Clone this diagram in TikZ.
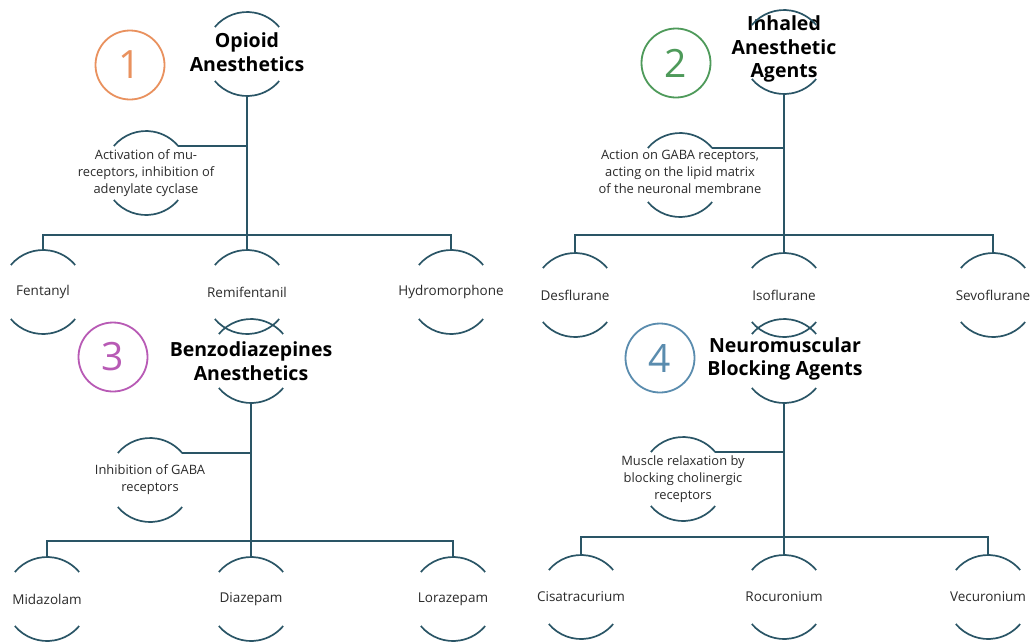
\documentclass[tikz,border=0pt]{standalone}
\usepackage{fontspec}
\setmainfont{Open Sans}
\usetikzlibrary{calc}
\definecolor{lncol}{HTML}{2A5566}
\definecolor{cone}{HTML}{E9915E}
\definecolor{ctwo}{HTML}{4E9A5A}
\definecolor{cthree}{HTML}{B85AB5}
\definecolor{cfour}{HTML}{5A8CAE}
\definecolor{txt}{HTML}{2B2B2B}
\tikzset{
  ln/.style={draw=lncol, line width=1.7pt},
  hub/.style={circle, minimum size=84pt, inner sep=0pt, outer sep=0pt},
  ttl/.style={font=\fontsize{19.5}{23.5}\selectfont\bfseries, align=center, text=black},
  leaf/.style={font=\fontsize{13.5}{17}\selectfont, text=txt},
  note/.style={font=\fontsize{12.9}{17}\selectfont, align=center, text=txt},
  num/.style={circle, line width=1.8pt, minimum size=69pt, inner sep=0pt, font=\fontsize{39}{39}\selectfont},
}
\newcommand\brk[1]{%
  \draw[ln] (#1.140) arc[start angle=140,end angle=40,radius=42pt];
  \draw[ln] (#1.220) arc[start angle=220,end angle=320,radius=42pt];}
\begin{document}
\begin{tikzpicture}[x=1pt,y=-1pt]
\fill[white] (0,0) rectangle (1032,641);
\useasboundingbox (0,0) rectangle (1032,641);

% ---------- Panel 1 ----------
\node[num, draw=cone, text=cone] (n1) at (130,65) {1};
\node[hub] (t1) at (247,54) {};
\node[ttl] (t1x) at (247,52) {Opioid\\Anesthetics};
\node[hub] (m1) at (146,173) {};
\node[note] (m1x) at (m1) {Activation of mu-\\receptors, inhibition of\\adenylate cyclase};
\coordinate (b1) at (247,235);
\node[hub] (l11) at (43,292) {};
\node[leaf] (l11x) at (l11) {Fentanyl};
\node[hub] (l12) at (247,292) {};
\node[leaf] (l12x) at (l12) {Remifentanil};
\node[hub] (l13) at (451,292) {};
\node[leaf] (l13x) at (l13) {Hydromorphone};
\draw[ln] (t1.south) -- (b1);
\draw[ln] (m1.40) -- (m1.40 -| t1.south);
\draw[ln] (l11.north) |- (b1) -| (l13.north);
\draw[ln] (b1) -- (l12.north);
\brk{t1}\brk{m1}\brk{l11}\brk{l12}\brk{l13}

% ---------- Panel 2 ----------
\node[num, draw=ctwo, text=ctwo] (n2) at (676,63) {2};
\node[hub] (t2) at (784,52) {};
\node[ttl] (t2x) at (784,49) {Inhaled\\Anesthetic\\Agents};
\node[hub] (m2) at (680,175) {};
\node[note] (m2x) at (680,172) {Action on GABA receptors,\\acting on the lipid matrix\\of the neuronal membrane};
\coordinate (b2) at (784,235);
\node[hub] (l21) at (575,295) {};
\node[leaf] (l21x) at (l21) {Desflurane};
\node[hub] (l22) at (784,295) {};
\node[leaf] (l22x) at (l22) {Isoflurane};
\node[hub] (l23) at (993,295) {};
\node[leaf] (l23x) at (l23) {Sevoflurane};
\draw[ln] (t2.south) -- (b2);
\draw[ln] (m2.40) -- (m2.40 -| t2.south);
\draw[ln] (l21.north) |- (b2) -| (l23.north);
\draw[ln] (b2) -- (l22.north);
\brk{t2}\brk{m2}\brk{l21}\brk{l22}\brk{l23}

% ---------- Panel 3 ----------
\node[num, draw=cthree, text=cthree] (n3) at (113,357) {3};
\node[hub] (t3) at (251,361) {};
\node[ttl] (t3x) at (251,361) {Benzodiazepines\\Anesthetics};
\node[hub] (m3) at (150,480) {};
\node[note] (m3x) at (m3) {Inhibition of GABA\\receptors};
\coordinate (b3) at (251,541);
\node[hub] (l31) at (47,599) {};
\node[leaf] (l31x) at (l31) {Midazolam};
\node[hub] (l32) at (251,599) {};
\node[leaf] (l32x) at (l32) {Diazepam};
\node[hub] (l33) at (453,599) {};
\node[leaf] (l33x) at (l33) {Lorazepam};
\draw[ln] (t3.south) -- (b3);
\draw[ln] (m3.40) -- (m3.40 -| t3.south);
\draw[ln] (l31.north) |- (b3) -| (l33.north);
\draw[ln] (b3) -- (l32.north);
\brk{t3}\brk{m3}\brk{l31}\brk{l32}\brk{l33}

% ---------- Panel 4 ----------
\node[num, draw=cfour, text=cfour] (n4) at (660,358) {4};
\node[hub] (t4) at (784,361) {};
\node[ttl] (t4x) at (785,359) {Neuromuscular\\Blocking Agents};
\node[hub] (m4) at (683,479) {};
\node[note] (m4x) at (m4) {Muscle relaxation by\\blocking cholinergic\\receptors};
\coordinate (b4) at (784,537);
\node[hub] (l41) at (581,597) {};
\node[leaf] (l41x) at (l41) {Cisatracurium};
\node[hub] (l42) at (784,597) {};
\node[leaf] (l42x) at (l42) {Rocuronium};
\node[hub] (l43) at (988,597) {};
\node[leaf] (l43x) at (l43) {Vecuronium};
\draw[ln] (t4.south) -- (b4);
\draw[ln] (m4.40) -- (m4.40 -| t4.south);
\draw[ln] (l41.north) |- (b4) -| (l43.north);
\draw[ln] (b4) -- (l42.north);
\brk{t4}\brk{m4}\brk{l41}\brk{l42}\brk{l43}
\end{tikzpicture}
\end{document}
